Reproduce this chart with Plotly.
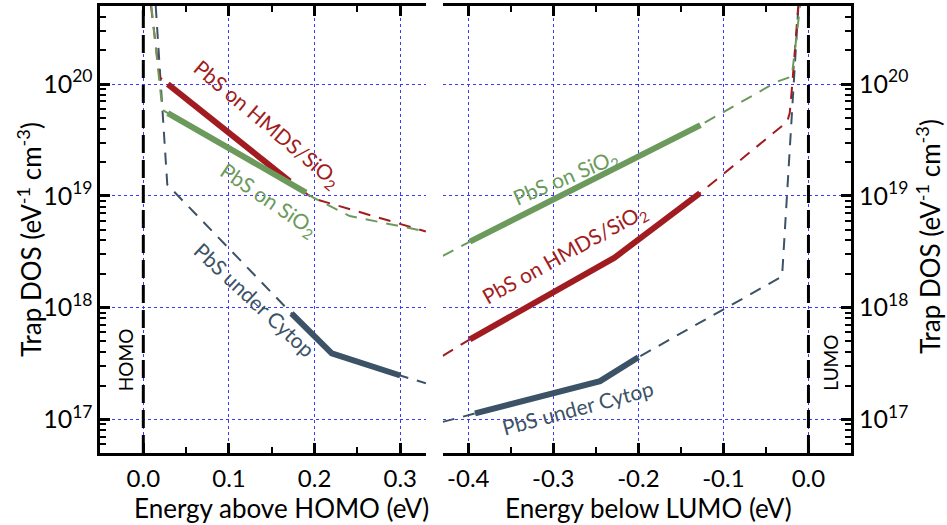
import plotly.graph_objects as go

# ---------------- data ----------------
# Left panel: energy above HOMO (eV)
L_hmds_fit_x = [0.009, 0.019, 0.0286, 0.171, 0.198, 0.33]
L_hmds_fit_y = [5e20, 1.15e20, 1.0e20, 1.35e19, 9.5e18, 4.8e18]
L_hmds_meas_x = [0.0286, 0.171]
L_hmds_meas_y = [1.0e20, 1.35e19]

L_sio2_fit_x = [0.0094, 0.0223, 0.0286, 0.19, 0.198, 0.241, 0.33]
L_sio2_fit_y = [5e20, 5.9e19, 5.5e19, 1.07e19, 9.7e18, 6.6e18, 4.8e18]
L_sio2_meas_x = [0.0286, 0.19]
L_sio2_meas_y = [5.5e19, 1.07e19]

L_cyt_fit_x = [0.0145, 0.028, 0.173, 0.22, 0.30, 0.33]
L_cyt_fit_y = [5e20, 1.26e19, 8.9e17, 3.9e17, 2.47e17, 2.1e17]
L_cyt_meas_x = [0.173, 0.22, 0.30]
L_cyt_meas_y = [8.9e17, 3.9e17, 2.47e17]

# Right panel: energy below LUMO (eV)
R_sio2_fit_x = [-0.43, -0.398, -0.127, -0.037, -0.0196, -0.0098]
R_sio2_fit_y = [2.9e18, 3.9e18, 4.3e19, 1.05e20, 1.17e20, 5e20]
R_sio2_meas_x = [-0.398, -0.127]
R_sio2_meas_y = [3.9e18, 4.3e19]

R_hmds_fit_x = [-0.43, -0.398, -0.228, -0.1275, -0.025, -0.022, -0.019, -0.012]
R_hmds_fit_y = [3.7e17, 5.2e17, 2.8e18, 1.06e19, 4.6e19, 5.5e19, 1.0e20, 5e20]
R_hmds_meas_x = [-0.398, -0.228, -0.1275]
R_hmds_meas_y = [5.2e17, 2.8e18, 1.06e19]

R_cyt_fit_x = [-0.43, -0.392, -0.245, -0.2, -0.031, -0.0118]
R_cyt_fit_y = [9.5e16, 1.13e17, 2.2e17, 3.6e17, 1.9e18, 5e20]
R_cyt_meas_x = [-0.392, -0.245, -0.2]
R_cyt_meas_y = [1.13e17, 2.2e17, 3.6e17]

HOMO_E = 0.0
LUMO_E = 0.0

L_xtick_vals = [0.0, 0.1, 0.2, 0.3]
L_xtick_text = ["0.0", "0.1", "0.2", "0.3"]
R_xtick_vals = [-0.4, -0.3, -0.2, -0.1, 0.0]
R_xtick_text = ["-0.4", "-0.3", "-0.2", "-0.1", "0.0"]
y_decades = [17, 18, 19, 20]
y_tick_text = ["10<sup>%d</sup>" % d for d in y_decades]

Y_MIN, Y_MAX = 5e16, 5e20

# ---------------- style ----------------
RED = "#a11c20"
GREEN = "#6c9a5d"
SLATE = "#3c5266"
GRID = "#3a3aff"
FONT = "Lato"

fig = go.Figure()

def add_series(fx, fy, mx, my, color, xa, ya):
    fig.add_trace(go.Scatter(x=fx, y=fy, mode="lines", xaxis=xa, yaxis=ya,
                             line=dict(color=color, width=2, dash="12px,9px"),
                             showlegend=False, hoverinfo="skip"))
    fig.add_trace(go.Scatter(x=mx, y=my, mode="lines", xaxis=xa, yaxis=ya,
                             line=dict(color=color, width=6),
                             showlegend=False, hoverinfo="skip"))

# left panel
add_series(L_cyt_fit_x, L_cyt_fit_y, L_cyt_meas_x, L_cyt_meas_y, SLATE, "x", "y")
add_series(L_hmds_fit_x, L_hmds_fit_y, L_hmds_meas_x, L_hmds_meas_y, RED, "x", "y")
add_series(L_sio2_fit_x, L_sio2_fit_y, L_sio2_meas_x, L_sio2_meas_y, GREEN, "x", "y")
# right panel
add_series(R_cyt_fit_x, R_cyt_fit_y, R_cyt_meas_x, R_cyt_meas_y, SLATE, "x2", "y2")
add_series(R_hmds_fit_x, R_hmds_fit_y, R_hmds_meas_x, R_hmds_meas_y, RED, "x2", "y2")
add_series(R_sio2_fit_x, R_sio2_fit_y, R_sio2_meas_x, R_sio2_meas_y, GREEN, "x2", "y2")

# HOMO / LUMO reference lines
fig.add_trace(go.Scatter(x=[HOMO_E, HOMO_E], y=[Y_MIN, Y_MAX], mode="lines", xaxis="x", yaxis="y",
                         line=dict(color="black", width=3, dash="18px,7px"),
                         showlegend=False, hoverinfo="skip"))
fig.add_trace(go.Scatter(x=[LUMO_E, LUMO_E], y=[Y_MIN, Y_MAX], mode="lines", xaxis="x2", yaxis="y2",
                         line=dict(color="black", width=3, dash="18px,7px"),
                         showlegend=False, hoverinfo="skip"))

minor_y = [k * 10.0 ** d for d in range(16, 21) for k in range(2, 10)
           if Y_MIN <= k * 10.0 ** d <= Y_MAX]

tickfont = dict(family=FONT, size=24, color="black")
common_x = dict(showline=True, linewidth=3, linecolor="black", mirror="ticks",
                ticks="inside", ticklen=10, tickwidth=2.5, tickcolor="black",
                tickmode="array", showgrid=True, gridcolor=GRID, griddash="dot", gridwidth=1,
                zeroline=False, tickfont=tickfont, ticklabelstandoff=2,
                minor=dict(ticks="inside", ticklen=6, tickwidth=2, tickcolor="black",
                           dtick=0.05, tick0=0.0, showgrid=False))
common_y = dict(type="log", range=[16.69897, 20.69897], showline=True, linewidth=3,
                linecolor="black", ticks="inside", ticklen=10, tickwidth=2.5, tickcolor="black",
                tickmode="array", tickvals=[10.0 ** d for d in y_decades], ticktext=y_tick_text,
                showgrid=True, gridcolor=GRID, griddash="dot", gridwidth=1, zeroline=False,
                tickfont=dict(family=FONT, size=25, color="black"),
                minor=dict(ticks="inside", ticklen=6, tickwidth=2, tickcolor="black",
                           tickmode="array", tickvals=minor_y, showgrid=False))

fig.update_layout(
    width=947, height=525,
    margin=dict(l=0, r=0, t=0, b=0),
    paper_bgcolor="white", plot_bgcolor="white",
    font=dict(family=FONT, color="black"),
    xaxis=dict(domain=[0.1061, 0.4498], range=[-0.05, 0.33], anchor="y",
               tickvals=L_xtick_vals, ticktext=L_xtick_text, **common_x),
    xaxis2=dict(domain=[0.4675, 0.8986], range=[-0.43, 0.05], anchor="y2",
                tickvals=R_xtick_vals, ticktext=R_xtick_text, **common_x),
    yaxis=dict(domain=[0.1371, 0.9886], anchor="x", side="left", **common_y),
    yaxis2=dict(domain=[0.1371, 0.9886], anchor="x2", side="right", **common_y),
)

ann_font = 21
def label(text, x, y, angle, color, xref, yref, size=ann_font):
    fig.add_annotation(text=text, x=x, y=y, xref=xref, yref=yref, textangle=angle,
                       showarrow=False, xanchor="center", yanchor="middle",
                       font=dict(family=FONT, size=size, color=color))

label("PbS on HMDS/SiO<sub>2</sub>", 0.144, 19.643, 40, RED, "x", "y")
label("PbS on SiO<sub>2</sub>", 0.146, 18.964, 34, GREEN, "x", "y")
label("PbS under Cytop", 0.13, 18.07, 43, SLATE, "x", "y")
label("HOMO", -0.0206, 17.536, -90, "black", "x", "y", 19)
label("PbS on SiO<sub>2</sub>", -0.286, 19.163, -23, GREEN, "x2", "y2")
label("PbS on HMDS/SiO<sub>2</sub>", -0.286, 18.476, -29, RED, "x2", "y2")
label("PbS under Cytop", -0.272, 17.107, -15, SLATE, "x2", "y2")
label("LUMO", 0.0255, 17.509, -90, "black", "x2", "y2", 19)

title_font = dict(family=FONT, size=26, color="black")
fig.add_annotation(text="Energy above HOMO (eV)", x=281.7 / 947, y=1 - 508 / 525,
                   xref="paper", yref="paper", showarrow=False, font=title_font,
                   xanchor="center", yanchor="middle")
fig.add_annotation(text="Energy below LUMO (eV)", x=648 / 947, y=1 - 508 / 525,
                   xref="paper", yref="paper", showarrow=False, font=title_font,
                   xanchor="center", yanchor="middle")
ytitle = "Trap DOS (eV<sup>-1</sup> cm<sup>-3</sup>)"
fig.add_annotation(text=ytitle, x=30 / 947, y=1 - 240 / 525, xref="paper", yref="paper",
                   showarrow=False, font=title_font, textangle=-90,
                   xanchor="center", yanchor="middle")
fig.add_annotation(text=ytitle, x=929 / 947, y=1 - 237 / 525, xref="paper", yref="paper",
                   showarrow=False, font=title_font, textangle=-90,
                   xanchor="center", yanchor="middle")

fig.write_html("out.html", config={"displayModeBar": False},
               post_script="document.body.style.margin='0';document.body.style.overflow='hidden';")
